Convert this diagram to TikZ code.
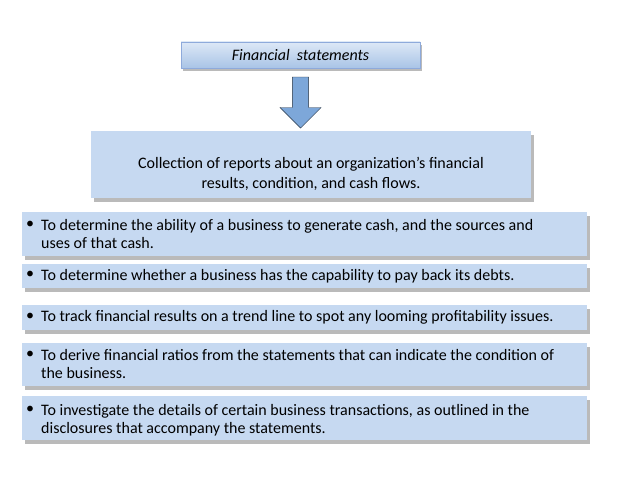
\documentclass[tikz,border=0pt]{standalone}
\usepackage{fontspec}
\setmainfont{Carlito}
\usetikzlibrary{shadows,shapes.arrows}
\definecolor{bfill}{HTML}{C6D9F1}
\definecolor{bdark}{HTML}{A9C4E6}
\definecolor{bline}{HTML}{8EAADB}
\definecolor{arr}{HTML}{7DA7D9}
\tikzset{
 box/.style={draw=bline,line width=0.5pt,top color=bfill!60!white,bottom color=bdark,
   drop shadow={shadow xshift=2pt,shadow yshift=-3pt,fill=black!45,opacity=0.6}},
 bul/.style={fill=bfill,draw=none,
   drop shadow={shadow xshift=3pt,shadow yshift=-4pt,fill=black!45,opacity=0.6}},
 txt/.style={font=\fontsize{16}{18}\selectfont,anchor=west,align=flush left,text width=560pt,inner sep=0pt}
}
\begin{document}
\begin{tikzpicture}[x=1pt,y=-1pt]
\useasboundingbox (0,0) rectangle (638,478);
\node[box,minimum width=239pt,minimum height=26pt] (fs) at (300.5,55) {\fontsize{16}{18}\selectfont\itshape Financial\ \ statements};
\node[single arrow,draw=black!70!arr,fill=arr,shape border rotate=270,minimum width=41pt,single arrow head extend=8pt,minimum height=51pt,inner sep=5pt] (ar) at (300.5,98.5) {};
\node[bul,minimum width=440pt,minimum height=67pt,fill=bfill] (col) at (311,164.5) {};
\node[align=center,font=\fontsize{16}{20}\selectfont] (ct) at (311,174) {Collection of reports about an organization's financial\\results, condition, and cash flows.};
\node[bul,minimum width=565pt,minimum height=44pt] (b1) at (304.5,234) {};
\node[bul,minimum width=565pt,minimum height=24pt] (b2) at (304.5,276) {};
\node[bul,minimum width=565pt,minimum height=25pt] (b3) at (304.5,317.5) {};
\node[bul,minimum width=565pt,minimum height=43pt] (b4) at (304.5,364.5) {};
\node[bul,minimum width=565pt,minimum height=44pt] (b5) at (304.5,418) {};
\foreach \y/\t in {234/{To determine the ability of a business to generate cash, and the sources and\\uses of that cash.},
 276/{To determine whether a business has the capability to pay back its debts.},
 317.5/{To track financial results on a trend line to spot any looming profitability issues.},
 364.5/{To derive financial ratios from the statements that can indicate the condition of\\the business.},
 420/{To investigate the details of certain business transactions, as outlined in the\\disclosures that accompany the statements.}}
 {\node[txt] at (41,\y) {\t};}
\foreach \y in {225,275,317,355,410}
 \node[font=\fontsize{16}{18}\selectfont] at (30,\y) {•};
\end{tikzpicture}
\end{document}
